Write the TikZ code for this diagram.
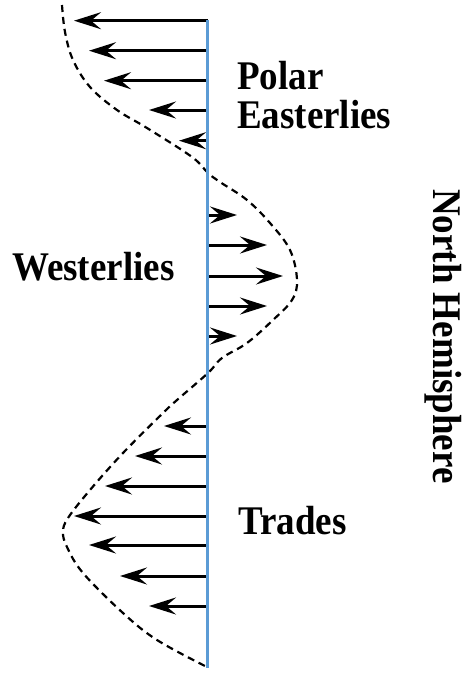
\documentclass[tikz,border=0pt]{standalone}
\usepackage{fontspec}
\setmainfont{Liberation Serif}
\usetikzlibrary{arrows.meta}
\definecolor{axisblue}{RGB}{91,155,213}
\newcommand{\tall}[1]{\scalebox{1}[1.1]{#1}}
\begin{document}
\begin{tikzpicture}[x=1pt,y=-1pt,
  wind/.style={line width=3pt,-{Stealth[length=27pt,width=17pt,inset=10pt]}},
  axis/.style={draw=axisblue,line width=2.2pt},
  profile/.style={draw=black,line width=2.2pt,dash pattern=on 7pt off 5pt},
  belt/.style={inner sep=0pt,anchor=base west,font=\bfseries\fontsize{37}{40}\selectfont}]
\useasboundingbox (0,0) rectangle (471,678);

% wind arrows from the meridian axis, (y, tip x)
\foreach \y/\x [count=\i] in {20.7/74,50.7/89,80.7/104,110/149,140.7/179,
                             215/237,245/267,276/283,306/267,336/237,
                             426/164,456/135,486/105,516/74,545/89,576/120,606/149}{
  \coordinate (t\i) at (207.5,\y);
  \coordinate (h\i) at (\x,\y);
  \draw[wind] (t\i) -- (h\i);
}

% dashed wind-speed profile
\draw[profile] plot[smooth,tension=0.6] coordinates {
  (62,5) (65,32) (73,60) (90,87) (117,110) (147,128) (192,157) (208,173)
  (220,182) (247,200) (270,223) (290,250) (297,280) (292,300) (273,320)
  (247,343) (222,358) (208,373) (177,400) (163,413) (123,453) (90,490)
  (68,518) (63,532) (67,547) (83,573) (123,613) (157,640) (207,667)};

% meridian axis
\coordinate (axtop) at (207.5,20);
\coordinate (axbot) at (207.5,668);
\draw[axis] (axtop) -- (axbot);

% belt labels
\node[belt] (polar) at (237,89) {\tall{Polar}};
\node[belt] (east) at (237,128) {\tall{Easterlies}};
\node[belt] (west) at (12,280) {\tall{Westerlies}};
\node[belt] (trades) at (238,534) {\tall{Trades}};
\node[belt,rotate=-90] (hemi) at (433,189) {\tall{North Hemisphere}};
\end{tikzpicture}
\end{document}
